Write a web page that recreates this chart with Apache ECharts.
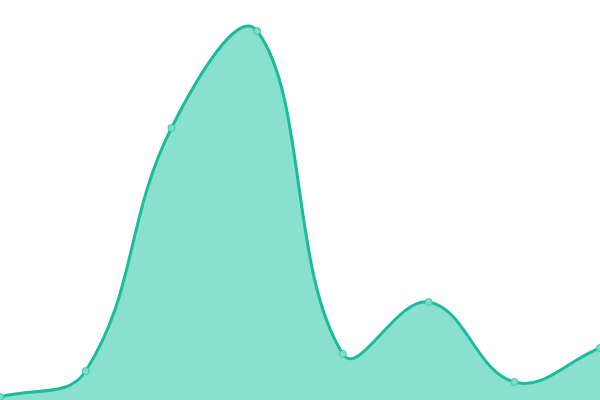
<!DOCTYPE html>
<html>
<head>
    <meta charset="utf-8">
    <title>area</title>
    <style type="text/css">
        html,body{margin:0;padding:0;width:100%;height:100%;overflow:hidden;background:#fff;}
        #main{width:600px;height:400px;}
    </style>
</head>
<body>
    <div id="main"></div>
    <script src="https://cdn.jsdelivr.net/npm/echarts@6/dist/echarts.min.js"></script>
    <script>
        // 数据
        var categories = ['1', '2', '3', '4', '5', '6', '7', '8'];
        var values = [3, 29, 272, 369, 46, 98, 18, 52];

        var lineColor = '#1abc9c';
        var fillColor = '#8ae0cf';
        var tension = 0.4;

        // 曲线控制点（按相邻线段长度分配）
        function splineCurve(prev, cur, next, t) {
            var d01 = Math.sqrt(Math.pow(cur[0] - prev[0], 2) + Math.pow(cur[1] - prev[1], 2));
            var d12 = Math.sqrt(Math.pow(next[0] - cur[0], 2) + Math.pow(next[1] - cur[1], 2));
            var s01 = d01 / (d01 + d12) || 0;
            var s12 = d12 / (d01 + d12) || 0;
            var fa = t * s01, fb = t * s12;
            return {
                before: [cur[0] - fa * (next[0] - prev[0]), cur[1] - fa * (next[1] - prev[1])],
                after: [cur[0] + fb * (next[0] - prev[0]), cur[1] + fb * (next[1] - prev[1])]
            };
        }

        function clamp(p, rect) {
            return [
                Math.min(Math.max(p[0], rect.x), rect.x + rect.width),
                Math.min(Math.max(p[1], rect.y), rect.y + rect.height)
            ];
        }

        function renderCurve(params, api) {
            if (params.dataIndex !== 0) {
                return null;
            }
            var rect = params.coordSys;
            var pts = values.map(function (v, i) { return api.coord([i, v]); });
            var n = pts.length;
            var cps = pts.map(function (p, i) {
                var prev = pts[i - 1] || p;
                var next = pts[i + 1] || p;
                var c = splineCurve(prev, p, next, tension);
                return { before: clamp(c.before, rect), after: clamp(c.after, rect) };
            });
            var d = 'M' + pts[0][0] + ' ' + pts[0][1];
            for (var i = 1; i < n; i++) {
                var a = cps[i - 1].after, b = cps[i].before;
                d += ' C' + a[0] + ' ' + a[1] + ' ' + b[0] + ' ' + b[1] + ' ' + pts[i][0] + ' ' + pts[i][1];
            }
            var base = api.coord([0, 0])[1];
            var area = d + ' L' + pts[n - 1][0] + ' ' + base + ' L' + pts[0][0] + ' ' + base + ' Z';
            return {
                type: 'group',
                children: [
                    { type: 'path', shape: { pathData: area }, style: { fill: fillColor, stroke: null } },
                    { type: 'path', shape: { pathData: d }, style: { fill: null, stroke: lineColor, lineWidth: 3 } }
                ]
            };
        }

        var myChart = echarts.init(document.getElementById('main'));
        var option = {
            animation: false,
            grid: {
                left: 0,
                right: 0,
                top: 0,
                bottom: 0
            },
            xAxis: {
                type: 'category',
                boundaryGap: false,
                data: categories,
                show: false
            },
            yAxis: {
                type: 'value',
                min: 0,
                max: 400,
                show: false
            },
            series: [
                {
                    type: 'custom',
                    renderItem: renderCurve,
                    data: values.map(function (v, i) { return [i, v]; }),
                    encode: { x: 0, y: 1 },
                    z: 1
                },
                {
                    type: 'line',
                    data: values,
                    symbol: 'circle',
                    symbolSize: 7,
                    itemStyle: {
                        color: '#7fdcc8',
                        borderColor: '#3cc9a9',
                        borderWidth: 1
                    },
                    lineStyle: {
                        opacity: 0
                    },
                    z: 2
                }
            ]
        };
        myChart.setOption(option);
    </script>
</body>
</html>
